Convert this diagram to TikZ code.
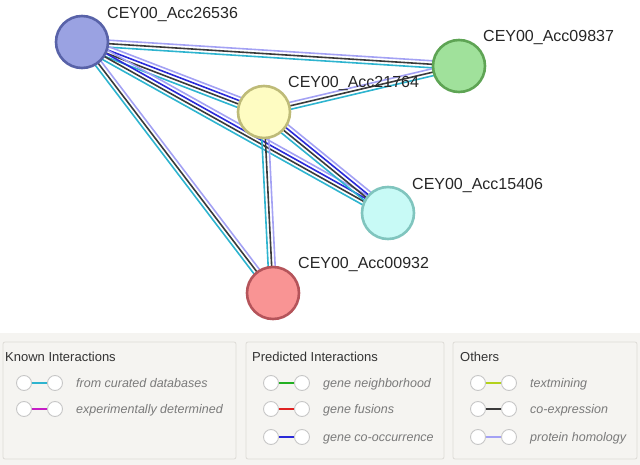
\documentclass[tikz,border=0pt]{standalone}
\usepackage{fontspec}
\setmainfont{Liberation Sans}
\usetikzlibrary{calc,backgrounds,positioning}

\definecolor{homology}{HTML}{A3A1F4}
\definecolor{coexpr}{HTML}{3A3A3A}
\definecolor{curated}{HTML}{2EB4CF}
\definecolor{cooccur}{HTML}{2A2AD8}
\definecolor{experim}{HTML}{C61EC6}
\definecolor{neighbor}{HTML}{22B022}
\definecolor{fusion}{HTML}{E02222}
\definecolor{textmine}{HTML}{B4D21C}
\definecolor{legendbg}{HTML}{F5F4F1}
\definecolor{legendln}{HTML}{DDDBD7}

% one coloured line per evidence channel, offset across the link
\newcommand{\evlink}[3]{%
  \foreach \o/\c in {#3}
    \draw[draw=\c,line width=1.6pt]
      ($(#1.center)!\o!90:(#2.center)$) -- ($(#2.center)!\o!-90:(#1.center)$);
}

\begin{document}
\begin{tikzpicture}[x=1pt,y=-1pt,
prot/.style={circle,minimum size=52pt,inner sep=0pt,line width=2.6pt},
plabel/.style={anchor=base west,inner sep=0pt,text=black!85,font=\fontsize{16}{19}\selectfont},
legbox/.style={draw=legendln,fill=legendbg,line width=0.8pt,rounded corners=2pt},
legtitle/.style={anchor=base west,inner sep=0pt,text=black!80,font=\fontsize{13}{15}\selectfont},
legdot/.style={circle,draw=black!22,fill=white,minimum size=15pt,inner sep=0pt,line width=0.9pt},
legtext/.style={anchor=base west,inner sep=0pt,text=black!52,font=\itshape\fontsize{12.5}{15}\selectfont},]
\useasboundingbox (0,0) rectangle (640,465);
\fill[legendbg] (0,333) rectangle (640,465);

% proteins
\node[prot,fill={rgb,255:red,154;green,162;blue,226},draw={rgb,255:red,88;green,98;blue,168}] (p26536) at (82,42) {};
\node[prot,fill={rgb,255:red,160;green,225;blue,155},draw={rgb,255:red,94;green,164;blue,84}] (p09837) at (459,66) {};
\node[prot,fill={rgb,255:red,254;green,252;blue,194},draw={rgb,255:red,190;green,187;blue,120}] (p21764) at (264,112) {};
\node[prot,fill={rgb,255:red,200;green,250;blue,246},draw={rgb,255:red,128;green,197;blue,190}] (p15406) at (388,213) {};
\node[prot,fill={rgb,255:red,249;green,148;blue,148},draw={rgb,255:red,181;green,84;blue,90}] (p00932) at (273,293) {};

\node[plabel] (t26536) at (107,18.5) {CEY00\_Acc26536};
\node[plabel] (t09837) at (483,41.5) {CEY00\_Acc09837};
\node[plabel] (t21764) at (288,87.5) {CEY00\_Acc21764};
\node[plabel] (t15406) at (412,190) {CEY00\_Acc15406};
\node[plabel] (t00932) at (298,268.5) {CEY00\_Acc00932};

\begin{scope}[on background layer]
\evlink{p26536}{p09837}{3.5pt/homology,0pt/coexpr,-3.5pt/curated}
\evlink{p26536}{p21764}{5.25pt/homology,1.75pt/cooccur,-1.75pt/coexpr,-5.25pt/curated}
\evlink{p26536}{p15406}{5.25pt/homology,1.75pt/cooccur,-1.75pt/coexpr,-5.25pt/curated}
\evlink{p26536}{p00932}{3.5pt/homology,0pt/coexpr,-3.5pt/curated}
\evlink{p21764}{p09837}{3.5pt/homology,0pt/coexpr,-3.5pt/curated}
\evlink{p21764}{p15406}{5.25pt/homology,1.75pt/cooccur,-1.75pt/coexpr,-5.25pt/curated}
\evlink{p21764}{p00932}{3.5pt/homology,0pt/coexpr,-3.5pt/curated}
\end{scope}

% legend
\draw[legbox] (3,342) rectangle (236,459);
\draw[legbox] (246,342) rectangle (444,459);
\draw[legbox] (453,342) rectangle (637,459);
\node[legtitle] (known) at (5,361) {Known Interactions};
\node[legtitle] (predicted) at (252,361) {Predicted Interactions};
\node[legtitle] (others) at (460,361) {Others};

\foreach \n/\x/\y/\c/\t in {
  cur/24/383/curated/from curated databases,
  exp/24/409/experim/experimentally determined,
  nbh/271/383/neighbor/gene neighborhood,
  fus/271/409/fusion/gene fusions,
  coc/271/437/cooccur/gene co-occurrence,
  txt/478/383/textmine/textmining,
  cex/478/409/coexpr/co-expression,
  hom/478/437/homology/protein homology}{
  \node[legdot] (\n a) at (\x,\y) {};
  \node[legdot] (\n b) at (\x+31,\y) {};
  \draw[draw=\c,line width=2pt] (\n a) -- (\n b);
  \node[legtext] (\n t) at (\x+52,\y+4.5) {\t};
}
\end{tikzpicture}
\end{document}
